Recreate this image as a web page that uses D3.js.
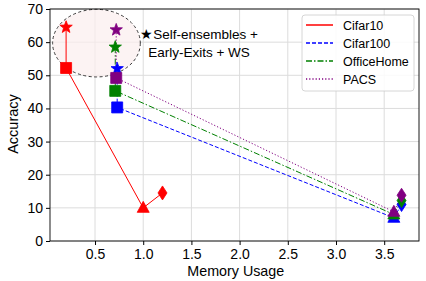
<!DOCTYPE html>
<html>
<head>
<meta charset="utf-8">
<script src="https://cdn.jsdelivr.net/npm/d3@7"></script>
<style>
  body { margin: 0; background: #fff; }
  svg { display: block; font-family: "Liberation Sans", Arial, sans-serif; }
</style>
</head>
<body>
<svg id="chart" width="426" height="281"></svg>
<script>
// data: star, square, triangle, diamond per dataset
const names = ['Cifar10', 'Cifar100', 'OfficeHome', 'PACS'];
const memCifar10 = [0.2, 0.2, 1.0, 1.2];
const accCifar10 = [64.5, 52.2, 10.0, 14.5];
const memCifar100 = [0.73, 0.73, 3.6, 3.68];
const accCifar100 = [52.0, 40.3, 7.0, 11.0];
const memOfficeHome = [0.71, 0.71, 3.6, 3.68];
const accOfficeHome = [58.5, 45.3, 8.0, 12.2];
const memPACS = [0.72, 0.72, 3.6, 3.68];
const accPACS = [63.7, 49.2, 8.8, 13.8];
const xTicks = [0.5, 1.0, 1.5, 2.0, 2.5, 3.0, 3.5];
const yTicks = [0, 10, 20, 30, 40, 50, 60, 70];
const markerKinds = ['star', 'square', 'triangle', 'diamond'];

const series = [
  {name: names[0], x: memCifar10, y: accCifar10, color: '#ff0000', dash: null},
  {name: names[1], x: memCifar100, y: accCifar100, color: '#0000ff', dash: '4,2'},
  {name: names[2], x: memOfficeHome, y: accOfficeHome, color: '#008000', dash: '6,2,1.5,2'},
  {name: names[3], x: memPACS, y: accPACS, color: '#800080', dash: '1.2,2'},
];

const margin = {top: 9, right: 7, bottom: 40, left: 50};
const width = 426, height = 281;
const svg = d3.select('#chart');

const x = d3.scaleLinear().domain([0.033, 3.861]).range([margin.left, width - margin.right]);
const y = d3.scaleLinear().domain([0, 70]).range([height - margin.bottom, margin.top]);

// grid
svg.append('g').selectAll('line.gx').data(xTicks).join('line')
  .attr('x1', d => x(d)).attr('x2', d => x(d))
  .attr('y1', y(70)).attr('y2', y(0))
  .attr('stroke', '#dcdcdc').attr('stroke-width', 1);
svg.append('g').selectAll('line.gy').data(yTicks).join('line')
  .attr('x1', x.range()[0]).attr('x2', x.range()[1])
  .attr('y1', d => y(d)).attr('y2', d => y(d))
  .attr('stroke', '#dcdcdc').attr('stroke-width', 1);

// highlight ellipse
svg.append('ellipse')
  .attr('cx', x(0.515)).attr('cy', y(59.7))
  .attr('rx', x(0.515 + 0.455) - x(0.515))
  .attr('ry', y(59.7) - y(59.7 + 10.2))
  .attr('fill', '#fbeeee').attr('fill-opacity', 0.7)
  .attr('stroke', '#222').attr('stroke-width', 0.9)
  .attr('stroke-dasharray', '3,2.5');

// annotation
const note = svg.append('text')
  .attr('text-anchor', 'middle').attr('font-size', 13.5).attr('fill', '#000');
note.append('tspan').attr('x', 199).attr('y', 38.5).text('\u2605Self-ensembles +');
note.append('tspan').attr('x', 199).attr('y', 56.5).text('Early-Exits + WS');

// lines
const line = d3.line().x(d => x(d[0])).y(d => y(d[1]));
series.forEach(s => {
  svg.append('path')
    .datum(s.x.map((v, i) => [v, s.y[i]]))
    .attr('d', line)
    .attr('fill', 'none')
    .attr('stroke', s.color)
    .attr('stroke-width', 1)
    .attr('stroke-dasharray', s.dash);
});

function markerPath(kind) {
  if (kind === 'star') {
    const pts = [];
    for (let i = 0; i < 10; i++) {
      const r = i % 2 === 0 ? 6.5 : 2.7;
      const a = -Math.PI / 2 + i * Math.PI / 5;
      pts.push([r * Math.cos(a), r * Math.sin(a)]);
    }
    return 'M' + pts.map(p => p.join(',')).join('L') + 'Z';
  }
  if (kind === 'square') return 'M-5.5,-5.5L5.5,-5.5L5.5,5.5L-5.5,5.5Z';
  if (kind === 'triangle') return 'M0,-6.5L6,4.5L-6,4.5Z';
  return 'M0,-7L4.5,0L0,7L-4.5,0Z';
}

// markers
series.forEach(s => {
  svg.append('g').selectAll('path')
    .data(s.x.map((v, i) => ({mx: v, my: s.y[i], kind: markerKinds[i]})))
    .join('path')
    .attr('transform', d => `translate(${x(d.mx)},${y(d.my)})`)
    .attr('d', d => markerPath(d.kind))
    .attr('fill', s.color)
    .attr('stroke', s.color)
    .attr('stroke-width', 0.8);
});

// frame
svg.append('rect')
  .attr('x', x.range()[0]).attr('y', y(70))
  .attr('width', x.range()[1] - x.range()[0]).attr('height', y(0) - y(70))
  .attr('fill', 'none').attr('stroke', '#000').attr('stroke-width', 0.9);

// axes
const gx = svg.append('g').attr('transform', `translate(0,${y(0)})`)
  .call(d3.axisBottom(x).tickValues(xTicks).tickFormat(d3.format('.1f')).tickSize(4).tickPadding(4));
const gy = svg.append('g').attr('transform', `translate(${x.range()[0]},0)`)
  .call(d3.axisLeft(y).tickValues(yTicks).tickSize(4).tickPadding(3));
[gx, gy].forEach(g => {
  g.select('.domain').remove();
  g.selectAll('text').attr('font-size', 14).attr('fill', '#000')
    .attr('font-family', '"Liberation Sans", Arial, sans-serif');
  g.selectAll('line').attr('stroke', '#000');
});

svg.append('text').attr('x', x(1.96)).attr('y', 276)
  .attr('text-anchor', 'middle').attr('font-size', 14.3).text('Memory Usage');
svg.append('text')
  .attr('transform', `translate(18,${y(35.3)}) rotate(-90)`)
  .attr('text-anchor', 'middle').attr('font-size', 14.5).text('Accuracy');

// legend
const lg = svg.append('g').attr('transform', 'translate(302,15)');
lg.append('rect').attr('width', 112).attr('height', 76).attr('rx', 3)
  .attr('fill', '#fff').attr('fill-opacity', 0.85)
  .attr('stroke', '#ccc').attr('stroke-width', 0.8);
series.forEach((s, i) => {
  const yy = 10 + i * 18;
  lg.append('line').attr('x1', 4).attr('x2', 31).attr('y1', yy).attr('y2', yy)
    .attr('stroke', s.color).attr('stroke-width', 1.5)
    .attr('stroke-dasharray', s.dash);
  lg.append('text').attr('x', 41).attr('y', yy + 4.5)
    .attr('font-size', 12.5).text(s.name);
});
</script>
</body>
</html>
